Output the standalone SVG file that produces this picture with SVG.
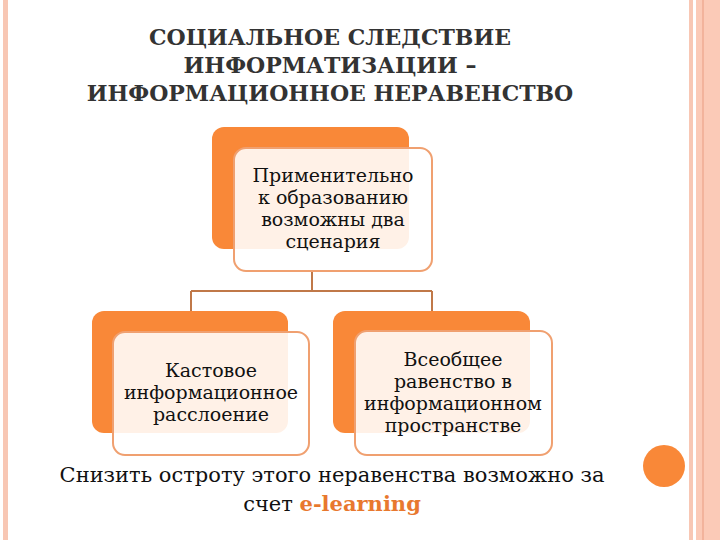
<svg xmlns="http://www.w3.org/2000/svg" width="720" height="540" viewBox="0 0 720 540">
<style>
text{font-family:"DejaVu Serif","Liberation Serif",serif}
.t{fill:#333;font-weight:bold;font-size:22px;text-anchor:middle}
.n{fill:#111;font-size:19px;text-anchor:middle}
.b{fill:#111;font-size:21px;text-anchor:middle}
.back{fill:#F98838}
.front{fill:#FFFFFF;fill-opacity:0.88;stroke:#F0A070;stroke-width:2}
.c{stroke:#C07848;stroke-width:2;fill:none}
</style>
<rect width="720" height="540" fill="#fff"/>
<rect x="3" y="0" width="5" height="540" fill="#F8C7B4"/>
<rect x="689" y="0" width="4" height="540" fill="#F8C7B4"/>
<rect x="696" y="0" width="24" height="540" fill="#FBCAB7"/>
<rect x="702" y="0" width="2" height="540" fill="#F2B39C"/>
<text class="t" x="330" y="45">СОЦИАЛЬНОЕ СЛЕДСТВИЕ</text>
<text class="t" x="330" y="73">ИНФОРМАТИЗАЦИИ –</text>
<text class="t" x="330" y="101">ИНФОРМАЦИОННОЕ НЕРАВЕНСТВО</text>
<g id="connectors">
<path class="c" d="M312 271V291M191 291H432M191 291V311M432 291V311"/>
</g>
<g id="top">
<rect class="back" x="212" y="127" width="197" height="122" rx="12"/>
<rect class="front" x="234" y="148" width="198" height="123" rx="12"/>
<text class="n" x="333" y="182">Применительно</text>
<text class="n" x="333" y="204">к образованию</text>
<text class="n" x="333" y="226">возможны два</text>
<text class="n" x="333" y="248">сценария</text>
</g>
<g id="left">
<rect class="back" x="92" y="311" width="196" height="122" rx="12"/>
<rect class="front" x="113" y="332" width="196" height="123" rx="12"/>
<text class="n" x="211" y="377">Кастовое</text>
<text class="n" x="211" y="399">информационное</text>
<text class="n" x="211" y="421">расслоение</text>
</g>
<g id="right">
<rect class="back" x="333" y="311" width="197" height="122" rx="12"/>
<rect class="front" x="355" y="331" width="197" height="124" rx="12"/>
<text class="n" x="453" y="366">Всеобщее</text>
<text class="n" x="453" y="388">равенство в</text>
<text class="n" x="453" y="410">информационном</text>
<text class="n" x="453" y="432">пространстве</text>
</g>
<text class="b" x="332" y="482">Снизить остроту этого неравенства возможно за</text>
<text class="b" x="332" y="511">счет <tspan fill="#E8782E" font-weight="bold">e-learning</tspan></text>
<circle cx="664" cy="466" r="21" fill="#F98838"/>
</svg>
